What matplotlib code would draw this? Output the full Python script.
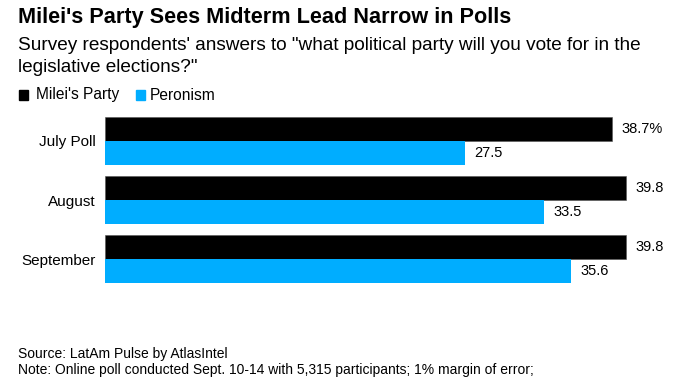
import matplotlib
matplotlib.use("Agg")
import matplotlib.pyplot as plt
import numpy as np
from matplotlib.patches import Rectangle

plt.rcParams['font.family'] = ['Liberation Sans Narrow', 'Liberation Sans', 'DejaVu Sans']

categories = ['July Poll', 'August', 'September']
milei = [38.7, 39.8, 39.8]
peronism = [27.5, 33.5, 35.6]
milei_labels = ['38.7%', '39.8', '39.8']
peronism_labels = ['27.5', '33.5', '35.6']

BLACK = '#000000'
BLUE = '#00ADFF'
ARIAL = ['Liberation Sans', 'DejaVu Sans']

fig = plt.figure(figsize=(7.0, 3.91), dpi=100)
ax = fig.add_axes([105 / 700, 1 - 288 / 391, 575 / 700, 176 / 391])

y = np.arange(len(categories))
h = 0.40
ax.barh(y - h / 2, milei, height=h, color=BLACK, edgecolor='#555555', linewidth=0.4)
ax.barh(y + h / 2, peronism, height=h, color=BLUE, edgecolor='none')

for i in range(len(categories)):
    ax.text(milei[i] + 0.7, y[i] - h / 2, milei_labels[i], va='center', ha='left',
            fontsize=10.5, family=ARIAL)
    ax.text(peronism[i] + 0.7, y[i] + h / 2, peronism_labels[i], va='center', ha='left',
            fontsize=10.5, family=ARIAL)

ax.set_xlim(0, 575 / 13.1)
ax.set_ylim(2.49, -0.49)
ax.set_yticks(y)
ax.set_yticklabels(categories, fontsize=11, family=ARIAL)
ax.tick_params(axis='y', length=0, pad=6.5)
ax.set_xticks([])
for s in ax.spines.values():
    s.set_visible(False)

fig.text(18 / 700, 1 - 18 / 391, "Milei's Party Sees Midterm Lead Narrow in Polls",
         fontsize=15.6, fontweight='bold', va='center', ha='left')
fig.text(18 / 700, 1 - 45 / 391,
         'Survey respondents\' answers to "what political party will you vote for in the',
         fontsize=13.7, va='center', ha='left')
fig.text(18 / 700, 1 - 68 / 391, 'legislative elections?"',
         fontsize=13.7, va='center', ha='left')

# legend
fig.patches.append(Rectangle((19 / 700, 1 - 100 / 391), 9 / 700, 10 / 391,
                             transform=fig.transFigure, color=BLACK))
fig.text(36 / 700, 1 - 95 / 391, "Milei's Party", fontsize=11.2, va='center', ha='left')
fig.patches.append(Rectangle((136 / 700, 1 - 100 / 391), 9 / 700, 10 / 391,
                             transform=fig.transFigure, color=BLUE))
fig.text(150 / 700, 1 - 95 / 391, 'Peronism', fontsize=11.2, va='center', ha='left')

fig.text(18 / 700, 1 - 354 / 391, 'Source: LatAm Pulse by AtlasIntel',
         fontsize=10, va='center', ha='left', family=ARIAL)
fig.text(18 / 700, 1 - 370 / 391,
         'Note: Online poll conducted Sept. 10-14 with 5,315 participants; 1% margin of error;',
         fontsize=10, va='center', ha='left', family=ARIAL)

fig.savefig('out.png', dpi=100, facecolor='white')
